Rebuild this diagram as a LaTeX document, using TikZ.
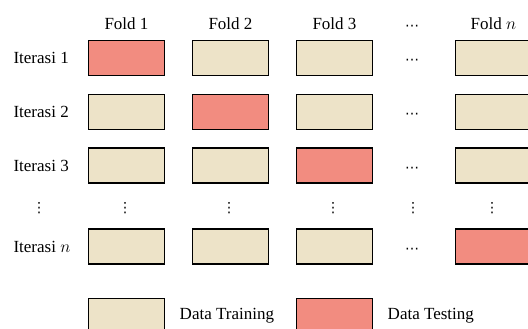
\documentclass[tikz,border=0pt]{standalone}
\usepackage{fontspec}
\setmainfont{Liberation Serif}
\newfontfamily\dotsfont{DejaVu Sans}
\usetikzlibrary{positioning}
\definecolor{train}{HTML}{EDE3C8}
\definecolor{test}{HTML}{F28C80}

\begin{document}
\begin{tikzpicture}[
            x=1pt, y=-1pt,
            font=\fontsize{17}{20}\selectfont,
                F/.style = {rectangle, draw, line width=1.4pt,% one fold of the data
                            fill=train, minimum width=76pt, minimum height=35pt,
                            inner sep=0pt},
                T/.style = {F, fill=test},% the fold used for testing
                H/.style = {inner sep=0pt, font=\dotsfont\fontsize{14}{14}\selectfont},% dots
                ]
            \useasboundingbox (0,0) rectangle (528,329);
            % column headers
            \foreach \c/\x/\t in {1/126.5/Fold 1, 2/230.5/Fold 2,
                                  3/334.5/Fold 3, 4/493.5/Fold $n$}
                \node (h-\c) at (\x,24) {\t};
            \node[H] (h-dots) at (412,28) {⋯};
            % one row per iteration, \k is the testing fold
            \foreach \r/\y/\k/\l in {1/58/1/1, 2/112/2/2, 3/165.5/3/3, 4/246.5/4/$n$}
            {
                \node[anchor=west] (it-\r) at (10,\y) {Iterasi \l};
                \foreach \c/\x in {1/126.5, 2/230.5, 3/334.5, 4/493.5}
                {
                    \ifnum\c=\k \def\cellfill{test}\else\def\cellfill{train}\fi
                    \node[F, fill=\cellfill] (r\r-\c) at (\x,\y) {};
                }
                \node[H] (d-\r) at (412,\y+4) {⋯};
            }
            % skipped iterations
            \foreach \x [count=\i] in {39,125,229,333,413,492}
                \node[H] (v-\i) at (\x,208) {⋮};
            % legend
            \node[F] (lg-train) at (126.5,316) {};
            \node[right=11pt of lg-train] (lt-train) {Data Training};
            \node[T] (lg-test) at (334.5,316) {};
            \node[right=11pt of lg-test] (lt-test) {Data Testing};
        \end{tikzpicture}
\end{document}
